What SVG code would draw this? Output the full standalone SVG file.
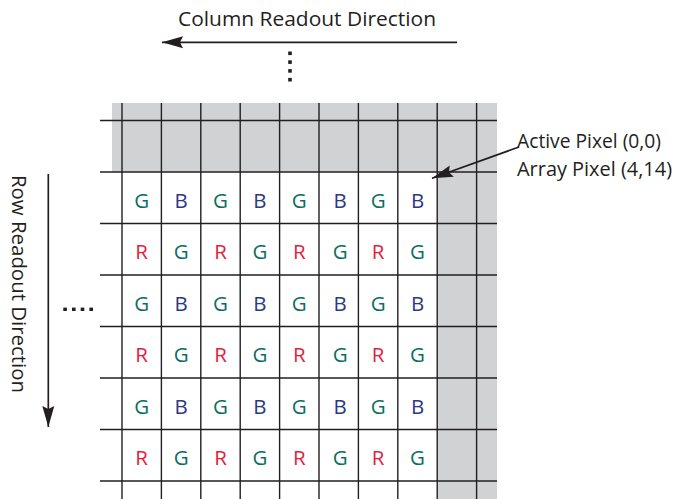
<svg xmlns="http://www.w3.org/2000/svg" width="681" height="499" viewBox="0 0 681 499">
<style>
.grid{stroke:#231f20;stroke-width:1.4;fill:none}
.lbl{font-family:"Open Sans","Noto Sans","Liberation Sans",sans-serif;font-size:20px;fill:#231f20}
.px{font-family:"Open Sans","Noto Sans","Liberation Sans",sans-serif;font-size:20.5px;text-anchor:middle}
.g{fill:#0b6e5f}
.b{fill:#2e3882}
.r{fill:#e31e3c}
.arr{stroke:#231f20;stroke-width:1.7;fill:none}
.dot{fill:#231f20}
</style>
<defs>
<marker id="ah" markerUnits="userSpaceOnUse" markerWidth="22" markerHeight="13" refX="21" refY="6.5" orient="auto">
<path d="M0,0.5 L21,6.5 L0,12.5 L3,6.5 Z" fill="#231f20"/>
</marker>
</defs>
<rect width="681" height="499" fill="#ffffff"/>
<g id="array">
<path d="M112,103 H497 V499 H437.2 V172 H112 Z" fill="#d1d2d4"/>
<g class="grid">
<path d="M100,120.5 H497 M100,172 H497 M100,223.5 H497 M100,275 H497 M100,326.5 H497 M100,378 H497 M100,429.5 H497 M100,481 H497"/>
<path d="M122,103 V499 M161.4,103 V499 M200.8,103 V499 M240.2,103 V499 M279.6,103 V499 M319,103 V499 M358.4,103 V499 M397.8,103 V499 M437.2,103 V499 M476.6,103 V499"/>
</g>
</g>
<g id="pixels" class="px">
<text x="141.7" y="207.8" class="g">G</text><text x="181.1" y="207.8" class="b">B</text><text x="220.5" y="207.8" class="g">G</text><text x="259.9" y="207.8" class="b">B</text><text x="299.3" y="207.8" class="g">G</text><text x="340.2" y="207.8" class="b">B</text><text x="378.1" y="207.8" class="g">G</text><text x="417.5" y="207.8" class="b">B</text>
<text x="141.7" y="259.3" class="r">R</text><text x="181.1" y="259.3" class="g">G</text><text x="220.5" y="259.3" class="r">R</text><text x="259.9" y="259.3" class="g">G</text><text x="299.3" y="259.3" class="r">R</text><text x="340.2" y="259.3" class="g">G</text><text x="378.1" y="259.3" class="r">R</text><text x="417.5" y="259.3" class="g">G</text>
<text x="141.7" y="310.8" class="g">G</text><text x="181.1" y="310.8" class="b">B</text><text x="220.5" y="310.8" class="g">G</text><text x="259.9" y="310.8" class="b">B</text><text x="299.3" y="310.8" class="g">G</text><text x="340.2" y="310.8" class="b">B</text><text x="378.1" y="310.8" class="g">G</text><text x="417.5" y="310.8" class="b">B</text>
<text x="141.7" y="362.3" class="r">R</text><text x="181.1" y="362.3" class="g">G</text><text x="220.5" y="362.3" class="r">R</text><text x="259.9" y="362.3" class="g">G</text><text x="299.3" y="362.3" class="r">R</text><text x="340.2" y="362.3" class="g">G</text><text x="378.1" y="362.3" class="r">R</text><text x="417.5" y="362.3" class="g">G</text>
<text x="141.7" y="413.8" class="g">G</text><text x="181.1" y="413.8" class="b">B</text><text x="220.5" y="413.8" class="g">G</text><text x="259.9" y="413.8" class="b">B</text><text x="299.3" y="413.8" class="g">G</text><text x="340.2" y="413.8" class="b">B</text><text x="378.1" y="413.8" class="g">G</text><text x="417.5" y="413.8" class="b">B</text>
<text x="141.7" y="465.3" class="r">R</text><text x="181.1" y="465.3" class="g">G</text><text x="220.5" y="465.3" class="r">R</text><text x="259.9" y="465.3" class="g">G</text><text x="299.3" y="465.3" class="r">R</text><text x="340.2" y="465.3" class="g">G</text><text x="378.1" y="465.3" class="r">R</text><text x="417.5" y="465.3" class="g">G</text>
</g>
<g id="column-readout">
<text class="lbl" x="307" y="25.5" text-anchor="middle" textLength="258" lengthAdjust="spacingAndGlyphs">Column Readout Direction</text>
</g>
<g id="row-readout">
<text class="lbl" transform="translate(12,284) rotate(90)" text-anchor="middle" textLength="218" lengthAdjust="spacingAndGlyphs">Row Readout Direction</text>
</g>
<g id="active-pixel-label">
<text class="lbl" x="517" y="148" textLength="144" lengthAdjust="spacingAndGlyphs">Active Pixel (0,0)</text>
<text class="lbl" x="517" y="176" textLength="155" lengthAdjust="spacingAndGlyphs">Array Pixel (4,14)</text>
</g>
<g id="ellipses">
<rect class="dot" x="288.2" y="51.5" width="3.6" height="3.6"/>
<rect class="dot" x="288.2" y="60.3" width="3.6" height="3.6"/>
<rect class="dot" x="288.2" y="69.1" width="3.6" height="3.6"/>
<rect class="dot" x="288.2" y="77.9" width="3.6" height="3.6"/>
<rect class="dot" x="63.3" y="307.6" width="3.6" height="3.4"/>
<rect class="dot" x="72" y="307.6" width="3.6" height="3.4"/>
<rect class="dot" x="80.7" y="307.6" width="3.6" height="3.4"/>
<rect class="dot" x="89.4" y="307.6" width="3.6" height="3.4"/>
</g>
<g id="connectors">
<line class="arr" x1="457" y1="42.3" x2="162" y2="42.3" marker-end="url(#ah)"/>
<line class="arr" x1="48.3" y1="174" x2="48.3" y2="427" marker-end="url(#ah)"/>
<line class="arr" x1="519" y1="147" x2="432" y2="178.3" marker-end="url(#ah)"/>
</g>
</svg>
